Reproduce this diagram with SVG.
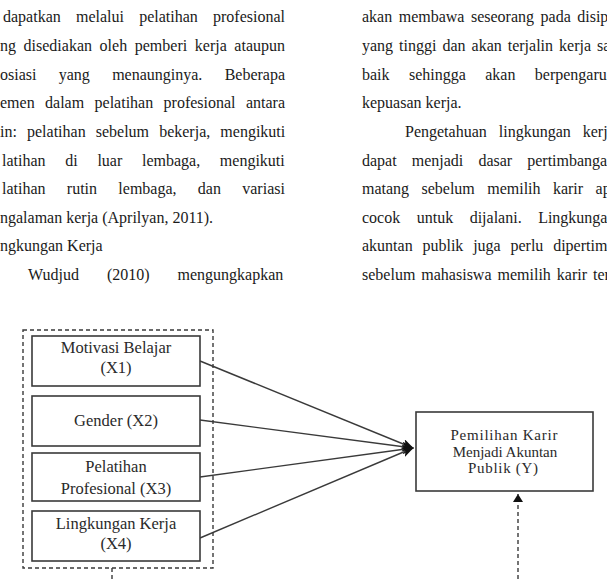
<svg xmlns="http://www.w3.org/2000/svg" width="607" height="579" viewBox="0 0 607 579">
  <style>
    .body { font-family: "Liberation Serif", "Times New Roman", serif; font-size: 16px; fill: #1a1a1a; }
    .lbl { font-family: "Liberation Serif", "Times New Roman", serif; font-size: 16.5px; fill: #2a2a2a; text-anchor: middle; }
    .lblY { font-family: "Liberation Serif", "Times New Roman", serif; font-size: 15px; fill: #2a2a2a; text-anchor: middle; }
    .box { fill: #ffffff; stroke: #3a3a3a; stroke-width: 1.6; }
    .dash { fill: none; stroke: #3a3a3a; stroke-width: 1.4; stroke-dasharray: 4 3; }
    .link { fill: none; stroke: #3a3a3a; stroke-width: 1.4; }
  </style>
  <defs>
    <marker id="head" viewBox="0 0 12 10" refX="11" refY="5" markerWidth="12" markerHeight="10" markerUnits="userSpaceOnUse" orient="auto">
      <path d="M0,0 L12,5 L0,10 L3,5 Z" fill="#111"/>
    </marker>
    <marker id="headUp" viewBox="0 0 8 10" refX="8" refY="5" markerWidth="8" markerHeight="10" markerUnits="userSpaceOnUse" orient="auto">
      <path d="M0,0 L8,5 L0,10 Z" fill="#111"/>
    </marker>
  </defs>

  <rect width="607" height="579" fill="#ffffff"/>

  <!-- left text column (justified by word spacing) -->
  <g id="text-left" class="body">
    <text x="3" y="22" word-spacing="11.2">dapatkan melalui pelatihan profesional</text>
    <text x="0" y="51" word-spacing="3.6">ng disediakan oleh pemberi kerja ataupun</text>
    <text x="0" y="80" word-spacing="18.3">osiasi yang menaunginya. Beberapa</text>
    <text x="0" y="108" word-spacing="6.4">emen dalam pelatihan profesional antara</text>
    <text x="0" y="137" word-spacing="6.1">in: pelatihan sebelum bekerja, mengikuti</text>
    <text x="2" y="166" word-spacing="15.7">latihan di luar lembaga, mengikuti</text>
    <text x="2" y="194" word-spacing="17.3">latihan rutin lembaga, dan variasi</text>
    <text x="0" y="223">ngalaman kerja (Aprilyan, 2011).</text>
    <text x="0" y="251">ngkungan Kerja</text>
    <text x="28" y="280" word-spacing="24">Wudjud (2010) mengungkapkan</text>
  </g>

  <!-- right text column -->
  <g id="text-right" class="body">
    <text x="362" y="22" word-spacing="2.5">akan membawa seseorang pada disip</text>
    <text x="362" y="51" word-spacing="2">yang tinggi dan akan terjalin kerja sa</text>
    <text x="362" y="80" word-spacing="15.4">baik sehingga akan berpengaru</text>
    <text x="362" y="108">kepuasan kerja.</text>
    <text x="405" y="137" word-spacing="8">Pengetahuan lingkungan kerja</text>
    <text x="362" y="166" word-spacing="11.1">dapat menjadi dasar pertimbanga</text>
    <text x="362" y="194" word-spacing="8.4">matang sebelum memilih karir ap</text>
    <text x="362" y="223" word-spacing="12.5">cocok untuk dijalani. Lingkunga</text>
    <text x="362" y="251" word-spacing="5.8">akuntan publik juga perlu dipertim</text>
    <text x="362" y="280" word-spacing="2">sebelum mahasiswa memilih karir ter</text>
  </g>

  <!-- connectors -->
  <g id="connectors">
    <path class="link" d="M200,361 L413,448" marker-end="url(#head)"/>
    <path class="link" d="M200,420 L413,448" marker-end="url(#head)"/>
    <path class="link" d="M200,477 L413,448" marker-end="url(#head)"/>
    <path class="link" d="M200,538 L413,448" marker-end="url(#head)"/>
    <path class="dash" d="M112,568 L112,579"/>
    <path class="dash" d="M518,579 L518,494" marker-end="url(#headUp)"/>
  </g>

  <!-- independent variables group -->
  <g id="group-x">
    <rect class="dash" x="23" y="330" width="190" height="238"/>
  </g>

  <g id="node-x1">
    <rect class="box" x="32" y="336" width="168" height="50"/>
    <text class="lbl" x="116" y="353">Motivasi Belajar</text>
    <text class="lbl" x="116" y="373">(X1)</text>
  </g>

  <g id="node-x2">
    <rect class="box" x="32" y="396" width="168" height="50"/>
    <text class="lbl" x="116" y="426">Gender (X2)</text>
  </g>

  <g id="node-x3">
    <rect class="box" x="32" y="453" width="168" height="48"/>
    <text class="lbl" x="116" y="472">Pelatihan</text>
    <text class="lbl" x="116" y="494">Profesional (X3)</text>
  </g>

  <g id="node-x4">
    <rect class="box" x="32" y="511" width="168" height="50"/>
    <text class="lbl" x="116" y="529">Lingkungan Kerja</text>
    <text class="lbl" x="116" y="549">(X4)</text>
  </g>

  <g id="node-y">
    <rect class="box" x="416" y="412" width="177" height="79"/>
    <text class="lblY" x="504" y="440" textLength="107" lengthAdjust="spacing">Pemilihan Karir</text>
    <text class="lblY" x="505" y="457">Menjadi Akuntan</text>
    <text class="lblY" x="503" y="473" textLength="70" lengthAdjust="spacing">Publik (Y)</text>
  </g>
</svg>
